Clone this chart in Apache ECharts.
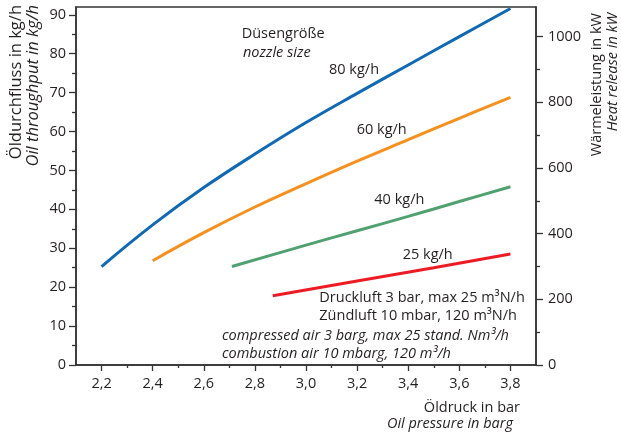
<!DOCTYPE html>
<html>
<head>
<meta charset="utf-8">
<script src="https://cdn.jsdelivr.net/npm/echarts@6/dist/echarts.min.js"></script>
<style>
  html, body { margin: 0; padding: 0; background: #fff; }
  #main { width: 621px; height: 435px; }
</style>
</head>
<body>
<div id="main"></div>
<script>
// Öldruck (bar) -> Öldurchfluss (kg/h) je Düsengröße
const pressure80 = [2.2, 2.4, 2.6, 2.8, 3.0, 3.2, 3.4, 3.6, 3.8];
const flow80 = [25.3, 36.0, 45.6, 54.2, 62.3, 69.8, 77.1, 84.4, 91.6];
const pressure60 = [2.4, 2.6, 2.8, 3.0, 3.2, 3.4, 3.6, 3.8];
const flow60 = [26.8, 34.0, 40.6, 46.6, 52.4, 57.9, 63.4, 68.8];
const pressure40 = [2.71, 3.0, 3.2, 3.4, 3.6, 3.8];
const flow40 = [25.3, 30.8, 34.5, 38.2, 42.0, 45.8];
const pressure25 = [2.87, 3.2, 3.5, 3.8];
const flow25 = [17.8, 21.6, 25.0, 28.5];

// Achsen-Ticks
const xTicks = [2.2, 2.4, 2.6, 2.8, 3.0, 3.2, 3.4, 3.6, 3.8];
const xMinor = [2.3, 2.5, 2.7, 2.9, 3.1, 3.3, 3.5, 3.7];
const yTicks = [0, 10, 20, 30, 40, 50, 60, 70, 80, 90];
const yMinor = [5, 15, 25, 35, 45, 55, 65, 75, 85];
const kwTicks = [0, 200, 400, 600, 800, 1000];
const kwMinor = [100, 300, 500, 700, 900];

const FONT = '"Open Sans", "Noto Sans", sans-serif';
const TXT = '#231f20';
const AX = '#333';

const pairs = (xs, ys) => xs.map((x, i) => [x, ys[i]]);

const chartDom = document.getElementById('main');
const myChart = echarts.init(chartDom, null, { renderer: 'canvas' });

const axisLine = { show: true, lineStyle: { color: AX, width: 1.5 } };
const label = { fontFamily: FONT, fontSize: 14.5, color: TXT };

function txt(x, y, text, opts) {
  opts = opts || {};
  return {
    type: 'text',
    x: x, y: y,
    rotation: opts.rot || 0,
    silent: true,
    style: {
      text: text,
      font: (opts.italic ? 'italic ' : '') + (opts.size || 14.5) + 'px ' + FONT,
      fill: TXT,
      textAlign: opts.align || 'left',
      align: opts.align || 'left',
      textVerticalAlign: 'middle',
      verticalAlign: 'middle'
    }
  };
}

const option = {
  animation: false,
  grid: {
    left: 76, right: 85, top: 7, bottom: 70,
    show: true, borderColor: AX, borderWidth: 1.5, backgroundColor: 'transparent'
  },
  xAxis: [
    {
      type: 'value', min: 2.1, max: 3.9, position: 'bottom',
      axisLine: axisLine,
      axisTick: { show: true, customValues: xTicks, length: 6, lineStyle: { color: AX, width: 1.3 } },
      axisLabel: Object.assign({ customValues: xTicks, margin: 11,
        formatter: v => v.toFixed(1).replace('.', ',') }, label),
      splitLine: { show: false }
    },
    {
      type: 'value', min: 2.1, max: 3.9, position: 'bottom',
      axisLine: { show: false },
      axisTick: { show: true, customValues: xMinor, length: 3, lineStyle: { color: AX, width: 1.3 } },
      axisLabel: { show: false },
      splitLine: { show: false }
    }
  ],
  yAxis: [
    {
      type: 'value', min: 0, max: 92, position: 'left',
      axisLine: axisLine,
      axisTick: { show: true, customValues: yTicks, length: 7, lineStyle: { color: AX, width: 1.3 } },
      axisLabel: Object.assign({ customValues: yTicks, margin: 10, formatter: v => String(v) }, label),
      splitLine: { show: false }
    },
    {
      type: 'value', min: 0, max: 92, position: 'left',
      axisLine: { show: false },
      axisTick: { show: true, customValues: yMinor, length: 4, lineStyle: { color: AX, width: 1.3 } },
      axisLabel: { show: false },
      splitLine: { show: false }
    },
    {
      type: 'value', min: 0, max: 1090.5, position: 'right',
      axisLine: axisLine,
      axisTick: { show: true, customValues: kwTicks, length: 7, lineStyle: { color: AX, width: 1.3 } },
      axisLabel: Object.assign({ customValues: kwTicks, margin: 12, formatter: v => String(v) }, label),
      splitLine: { show: false }
    },
    {
      type: 'value', min: 0, max: 1090.5, position: 'right',
      axisLine: { show: false },
      axisTick: { show: true, customValues: kwMinor, length: 4, lineStyle: { color: AX, width: 1.3 } },
      axisLabel: { show: false },
      splitLine: { show: false }
    }
  ],
  series: [
    { name: '80 kg/h', type: 'line', data: pairs(pressure80, flow80), smooth: 0.4,
      showSymbol: false, lineStyle: { color: '#0f69b4', width: 3 } },
    { name: '60 kg/h', type: 'line', data: pairs(pressure60, flow60), smooth: 0.4,
      showSymbol: false, lineStyle: { color: '#f7901e', width: 3 } },
    { name: '40 kg/h', type: 'line', data: pairs(pressure40, flow40), smooth: 0.3,
      showSymbol: false, lineStyle: { color: '#50a070', width: 3 } },
    { name: '25 kg/h', type: 'line', data: pairs(pressure25, flow25),
      showSymbol: false, lineStyle: { color: '#ed1c24', width: 3 } }
  ],
  graphic: [
    txt(241.7, 34, 'Düsengröße'),
    txt(243, 53, 'nozzle size', { italic: true }),
    txt(329, 70, '80 kg/h'),
    txt(356.7, 130, '60 kg/h'),
    txt(374.3, 200, '40 kg/h'),
    txt(402.7, 255, '25 kg/h'),
    txt(319.3, 297.7, 'Druckluft 3 bar, max 25 m³N/h'),
    txt(319.3, 316, 'Zündluft 10 mbar, 120 m³N/h'),
    txt(222, 335.5, 'compressed air 3 barg, max 25 stand. Nm³/h', { italic: true }),
    txt(222, 353.5, 'combustion air 10 mbarg, 120 m³/h', { italic: true }),
    txt(520, 408, 'Öldruck in bar', { align: 'right' }),
    txt(513, 423.5, 'Oil pressure in barg', { align: 'right', italic: true }),
    txt(16.5, 5, 'Öldurchfluss in kg/h', { align: 'right', rot: Math.PI / 2, size: 16.5 }),
    txt(33, 5, 'Oil throughput in kg/h', { align: 'right', rot: Math.PI / 2, italic: true, size: 16.5 }),
    txt(597, 13, 'Wärmeleistung in kW', { align: 'right', rot: Math.PI / 2 }),
    txt(613, 13, 'Heat release in kW', { align: 'right', rot: Math.PI / 2, italic: true })
  ]
};

option && myChart.setOption(option);
</script>
</body>
</html>
